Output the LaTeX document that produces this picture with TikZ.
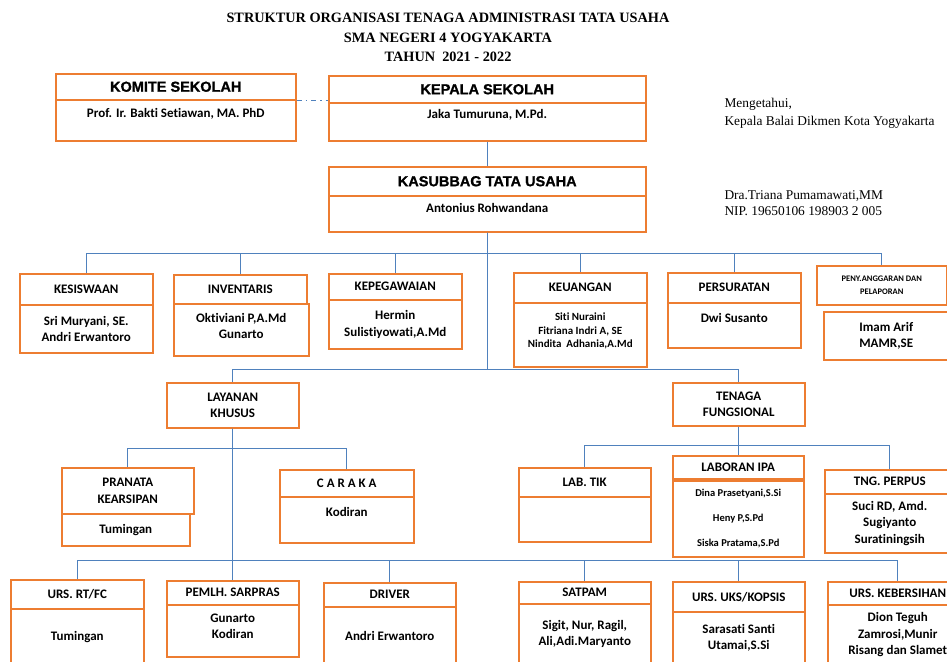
\documentclass[tikz,border=0pt]{standalone}
\usepackage{fontspec}
\setmainfont{Liberation Serif}
\newfontfamily\calib[Ligatures=NoCommon]{Carlito}
\newfontfamily\heavy[BoldFeatures={FakeBold=1.2}]{Liberation Sans}
\definecolor{boxor}{RGB}{237,125,49}
\definecolor{linkblue}{RGB}{79,129,189}
\tikzset{
  unit/.style={draw=boxor, line width=1.5pt, anchor=north west, align=center, inner sep=1pt,
    font=\calib\bfseries\fontsize{13}{16.5}\selectfont},
  small/.style={font=\calib\bfseries\fontsize{11}{13.5}\selectfont},
  top/.style={unit, font=\heavy\bfseries\fontsize{14.5}{16}\selectfont},
  sz/.style 2 args={minimum width=#1pt, minimum height=#2pt},
  up/.style={text depth=#1pt},
  titletext/.style={font=\bfseries\fontsize{14.3}{16}\selectfont},
  signtext/.style={anchor=base west, font=\fontsize{13.4}{16}\selectfont},
  link/.style={draw=linkblue, line width=1.2pt},
}
\begin{document}
\begin{tikzpicture}[x=1pt,y=-1pt]
\useasboundingbox (0,0) rectangle (947,661);
\clip (0,0) rectangle (947,661);
% title
\node[titletext] (t1) at (448,18) {STRUKTUR ORGANISASI TENAGA ADMINISTRASI TATA USAHA};
\node[titletext] (t2) at (448,38) {SMA NEGERI 4 YOGYAKARTA};
\node[titletext] (t3) at (448,57) {TAHUN\ \ 2021 - 2022};
% signature
\node[signtext] (sign1) at (721,107) {Mengetahui,};
\node[signtext] (sign2) at (721,125) {Kepala Balai Dikmen Kota Yogyakarta};
\node[signtext] (sign3) at (721,199) {Dra.Triana Pumamawati,MM};
\node[signtext] (sign4) at (721,215) {NIP. 19650106 198903 2 005};
% top
\node[top, sz={240}{26}] (komH) at (55,73) {KOMITE SEKOLAH};
\node[unit, sz={240}{41}, up=14] (komB) at (55,99) {Prof. Ir. Bakti Setiawan, MA. PhD};
\node[top, sz={317}{27}] (kepH) at (328,75) {KEPALA SEKOLAH};
\node[unit, sz={317}{38}, up=15] (kepB) at (328,102) {Jaka Tumuruna, M.Pd.};
\node[top, sz={317}{29}] (kasH) at (328,166) {KASUBBAG TATA USAHA};
\node[unit, sz={317}{36}, up=11] (kasB) at (328,195) {Antonius Rohwandana};
% row 1
\node[unit, sz={133}{31}] (kesH) at (19,273) {KESISWAAN};
\node[unit, sz={133}{48}] (kesB) at (19,304) {Sri Muryani, SE.\\Andri Erwantoro};
\node[unit, sz={133}{29}] (invH) at (173,274) {INVENTARIS};
\node[unit, sz={135}{52}, up=8] (invB) at (173,303) {Oktiviani P,A.Md\\Gunarto};
\node[unit, sz={133}{26}] (kpgH) at (328,273) {KEPEGAWAIAN};
\node[unit, sz={133}{49}] (kpgB) at (328,299) {Hermin\\Sulistiyowati,A.Md};
\node[unit, sz={133}{30}] (keuH) at (513,272) {KEUANGAN};
\node[unit, small, sz={133}{64}, up=9] (keuB) at (513,302) {Siti Nuraini\\Fitriana Indri A, SE\\Nindita\ \ Adhania,A.Md};
\node[unit, sz={133}{30}] (perH) at (667,272) {PERSURATAN};
\node[unit, sz={133}{45}, up=14] (perB) at (667,302) {Dwi Susanto};
\node[unit, sz={130}{39}, font=\calib\bfseries\fontsize{8.5}{13}\selectfont] (penH) at (816,265) {PENY.ANGGARAN DAN\\PELAPORAN};
\node[unit, sz={125}{48}] (penB) at (823,311) {Imam Arif\\MAMR,SE};
% middle
\node[unit, sz={132}{45}] (layH) at (166,382) {LAYANAN\\KHUSUS};
\node[unit, sz={132}{43}] (tenH) at (672,382) {TENAGA\\FUNGSIONAL};
\node[unit, sz={132}{46}] (praH) at (61,467) {PRANATA\\KEARSIPAN};
\node[unit, sz={128}{32}] (praB) at (61,513) {Tumingan};
\node[unit, sz={134}{27}] (carH) at (279,469) {C A R A K A};
\node[unit, sz={134}{46}, up=15] (carB) at (279,496) {Kodiran};
\node[unit, sz={132}{29}] (labtH) at (518,467) {LAB. TIK};
\node[unit, sz={132}{45}] (labtB) at (518,496) {};
\node[unit, sz={131}{23}] (labH) at (672,455) {LABORAN IPA};
\node[unit, sz={131}{76}, font=\calib\bfseries\fontsize{10.5}{25}\selectfont] (labB) at (672,480) {Dina Prasetyani,S.Si\\Heny P,S.Pd\\Siska Pratama,S.Pd};
\node[unit, sz={130}{24}] (tngH) at (824,469) {TNG. PERPUS};
\node[unit, sz={130}{59}] (tngB) at (824,493) {Suci RD, Amd.\\Sugiyanto\\Suratiningsih};
% bottom
\node[unit, sz={133}{29}] (rtH) at (10,579) {URS. RT/FC};
\node[unit, sz={133}{56}] (rtB) at (10,608) {Tumingan};
\node[unit, sz={132}{24}] (sarH) at (166,580) {PEMLH. SARPRAS};
\node[unit, sz={132}{52}, up=9] (sarB) at (166,604) {Gunarto\\Kodiran};
\node[unit, sz={132}{24}] (drvH) at (323,582) {DRIVER};
\node[unit, sz={132}{58}] (drvB) at (323,606) {Andri Erwantoro};
\node[unit, sz={132}{22}] (satH) at (518,581) {SATPAM};
\node[unit, sz={132}{60}] (satB) at (518,603) {Sigit, Nur, Ragil,\\Ali,Adi.Maryanto};
\node[unit, sz={132}{30}] (uksH) at (672,581) {URS. UKS/KOPSIS};
\node[unit, sz={132}{52}] (uksB) at (672,611) {Sarasati Santi\\Utamai,S.Si};
\node[unit, sz={140}{23}] (kbsH) at (827,581) {URS. KEBERSIHAN};
\node[unit, sz={140}{60}] (kbsB) at (827,604) {Dion Teguh\\Zamrosi,Munir\\Risang dan Slamet};
% links
\draw[link, dash pattern=on 5pt off 4pt on 1.5pt off 4pt] (komH.south east) -- (komH.south east -| kepH.west);
\draw[link] (kepB.south) -- (kasH.north);
\foreach \c in {kesH,invH,kpgH,keuH,perH,penH} {
  \draw[link] (kasB.south) -- ++(0,21) -| (\c.north);
}
\foreach \c in {layH,tenH} {
  \draw[link] (kasB.south) -- ++(0,137) -| (\c.north);
}
\foreach \c in {praH,carH} {
  \draw[link] (layH.south) -- ++(0,20) -| (\c.north);
}
\foreach \c in {rtH,sarH,drvH,satH,uksH,kbsH} {
  \draw[link] (layH.south) -- ++(0,132) -| (\c.north);
}
\foreach \c in {labtH,labH,tngH} {
  \draw[link] (tenH.south) -- ++(0,19) -| (\c.north);
}
\end{tikzpicture}
\end{document}
